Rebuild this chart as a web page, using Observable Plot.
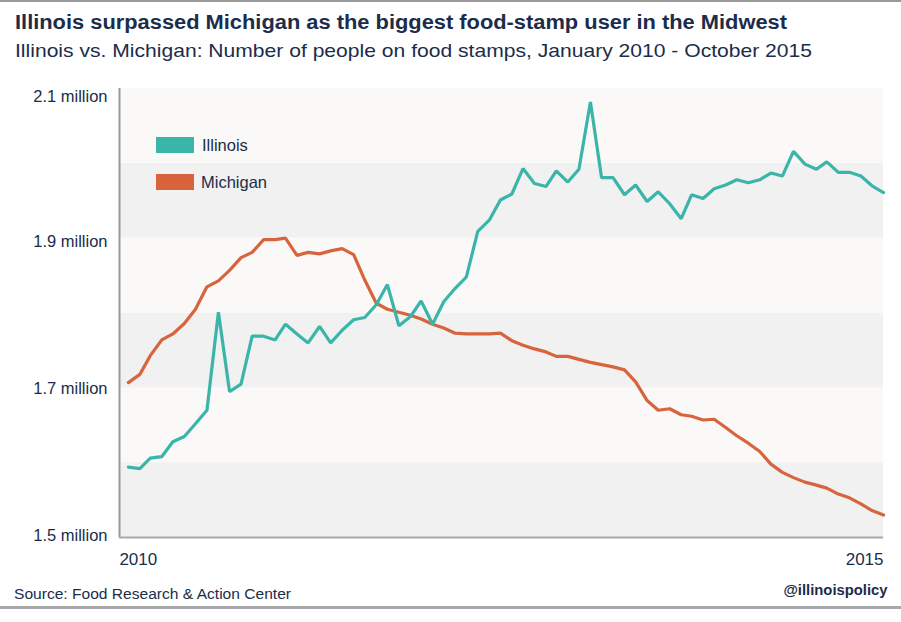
<!DOCTYPE html>
<html><head><meta charset="utf-8">
<script src="https://cdn.jsdelivr.net/npm/d3@7"></script>
<script src="https://cdn.jsdelivr.net/npm/@observablehq/plot@0.6"></script>
<style>
body{margin:0;background:#fff;}
#wrap{position:relative;width:901px;height:622px;overflow:hidden;background:#fff;font-family:"Liberation Sans",Arial,sans-serif;color:#1b2d4a;}
.t{position:absolute;white-space:nowrap;line-height:1;transform:translateY(-50%);}
.sw{position:absolute;width:38px;height:16px;}
#chart{position:absolute;left:0;top:80px;}
</style></head><body>
<div id="wrap">
  <div style="position:absolute;left:0;top:0;width:901px;height:2px;background:#9a9a9a"></div>
  <div class="t" id="title" style="left:15px;top:22px;font-weight:bold;font-size:20px">Illinois surpassed Michigan as the biggest food-stamp user in the Midwest</div>
  <div class="t" id="subtitle" style="left:15px;top:50px;font-size:19px">Illinois vs. Michigan: Number of people on food stamps, January 2010 - October 2015</div>
  <div id="chart"></div>
  <div class="sw" style="left:156px;top:137px;background:#3bb5a9"></div>
  <div class="t" id="legIL" style="left:202px;top:145px;font-size:16.5px">Illinois</div>
  <div class="sw" style="left:156px;top:174px;background:#d8643e"></div>
  <div class="t" id="legMI" style="left:201px;top:182px;font-size:16.5px">Michigan</div>
  <div class="t" id="source" style="left:14px;top:594px;font-size:14px">Source: Food Research &amp; Action Center</div>
  <div class="t" id="handle" style="right:14px;top:590px;font-size:14px;font-weight:bold">@illinoispolicy</div>
  <div style="position:absolute;left:0;top:606px;width:901px;height:3px;background:#a8a8a8"></div>
</div>
<script>
// Monthly values, thousands of people (Jan 2010 onward)
const illinois = [1594,1592,1606,1608,1628,1635,1652,1670,1801,1695,1705,1769,1769,1764,1785,1772,1760,1782,1760,1777,1791,1794,1811,1838,1783,1795,1816,1785,1815,1833,1848,1909,1924,1951,1959,1993,1973,1969,1990,1975,1992,2082,1981,1981,1958,1971,1949,1962,1946,1926,1958,1953,1966,1971,1978,1974,1978,1987,1983,2016,1999,1992,2002,1988,1988,1983,1970,1961];
const michigan = [1707,1718,1743,1764,1772,1786,1805,1835,1843,1857,1874,1881,1898,1898,1900,1877,1881,1879,1883,1886,1878,1844,1813,1805,1801,1797,1792,1785,1780,1773,1772,1772,1772,1773,1763,1757,1752,1748,1742,1742,1738,1734,1731,1728,1724,1708,1683,1670,1672,1664,1662,1657,1658,1647,1636,1626,1615,1598,1587,1580,1574,1570,1566,1558,1553,1545,1536,1530];
const months = d3.utcMonth.range(new Date(Date.UTC(2010,0,1)), new Date(Date.UTC(2015,7,2)));
const yTicks = [1500, 1700, 1900, 2100];
const bandEdges = [1500, 1600, 1700, 1800, 1900, 2000, 2100];

const ilData = months.map((m,i)=>({date:m, value:illinois[i]}));
const miData = months.map((m,i)=>({date:m, value:michigan[i]}));
const bands = bandEdges.slice(0,-1).map((b,i)=>({y1:b, y2:bandEdges[i+1], fill: i%2===0 ? "#f1f1f1" : "#faf9f8"}));

const xStart = new Date(Date.UTC(2009,11,8));
const xEnd = months[months.length-1];
const nudge = {2100: 8, 1900: 4, 1700: 1, 1500: -2};

const chart = Plot.plot({
  width: 901, height: 495,
  marginLeft: 119, marginRight: 18, marginTop: 8, marginBottom: 38,
  x: {type: "utc", domain: [xStart, xEnd]},
  y: {domain: [1500, 2100]},
  color: {type: "identity"},
  style: {fontFamily: '"Liberation Sans", Arial, sans-serif', color: "#1b2d4a", background: "transparent", overflow: "visible"},
  marks: [
    Plot.rect(bands, {x1: () => xStart, x2: () => xEnd, y1: "y1", y2: "y2", fill: "fill"}),
    Plot.ruleX([xStart], {stroke: "#9a9a9a", strokeWidth: 2}),
    Plot.ruleY([1500], {stroke: "#a8a8a8", strokeWidth: 2}),
    Plot.line(miData, {x: "date", y: "value", stroke: "#d8643e", strokeWidth: 3.2, strokeLinejoin: "miter"}),
    Plot.line(ilData, {x: "date", y: "value", stroke: "#3bb5a9", strokeWidth: 3.2, strokeLinejoin: "miter"}),
    ...yTicks.map(t => Plot.axisY({ticks: [t], tickFormat: d => (d/1000).toFixed(1) + " million", tickSize: 0, tickPadding: 12, fontSize: 16.5, dy: nudge[t], label: null, style: {letterSpacing: "0.4px"}})),
    Plot.axisX({ticks: [months[0]], tickFormat: "%Y", tickSize: 0, tickPadding: 15, fontSize: 17, textAnchor: "start", dx: -9, label: null, style: {letterSpacing: "1px"}}),
    Plot.axisX({ticks: [xEnd], tickFormat: "%Y", tickSize: 0, tickPadding: 15, fontSize: 17, textAnchor: "end", label: null, style: {letterSpacing: "1px"}})
  ]
});
document.getElementById("chart").appendChild(chart);

function fit(id, w, right) {
  const el = document.getElementById(id);
  const r = el.getBoundingClientRect().width;
  el.style.transformOrigin = right ? "right center" : "left center";
  el.style.transform = `translateY(-50%) scaleX(${w / r})`;
}
fit("title", 772);
fit("subtitle", 797);
fit("source", 277);
fit("handle", 104, true);
</script>
</body></html>
